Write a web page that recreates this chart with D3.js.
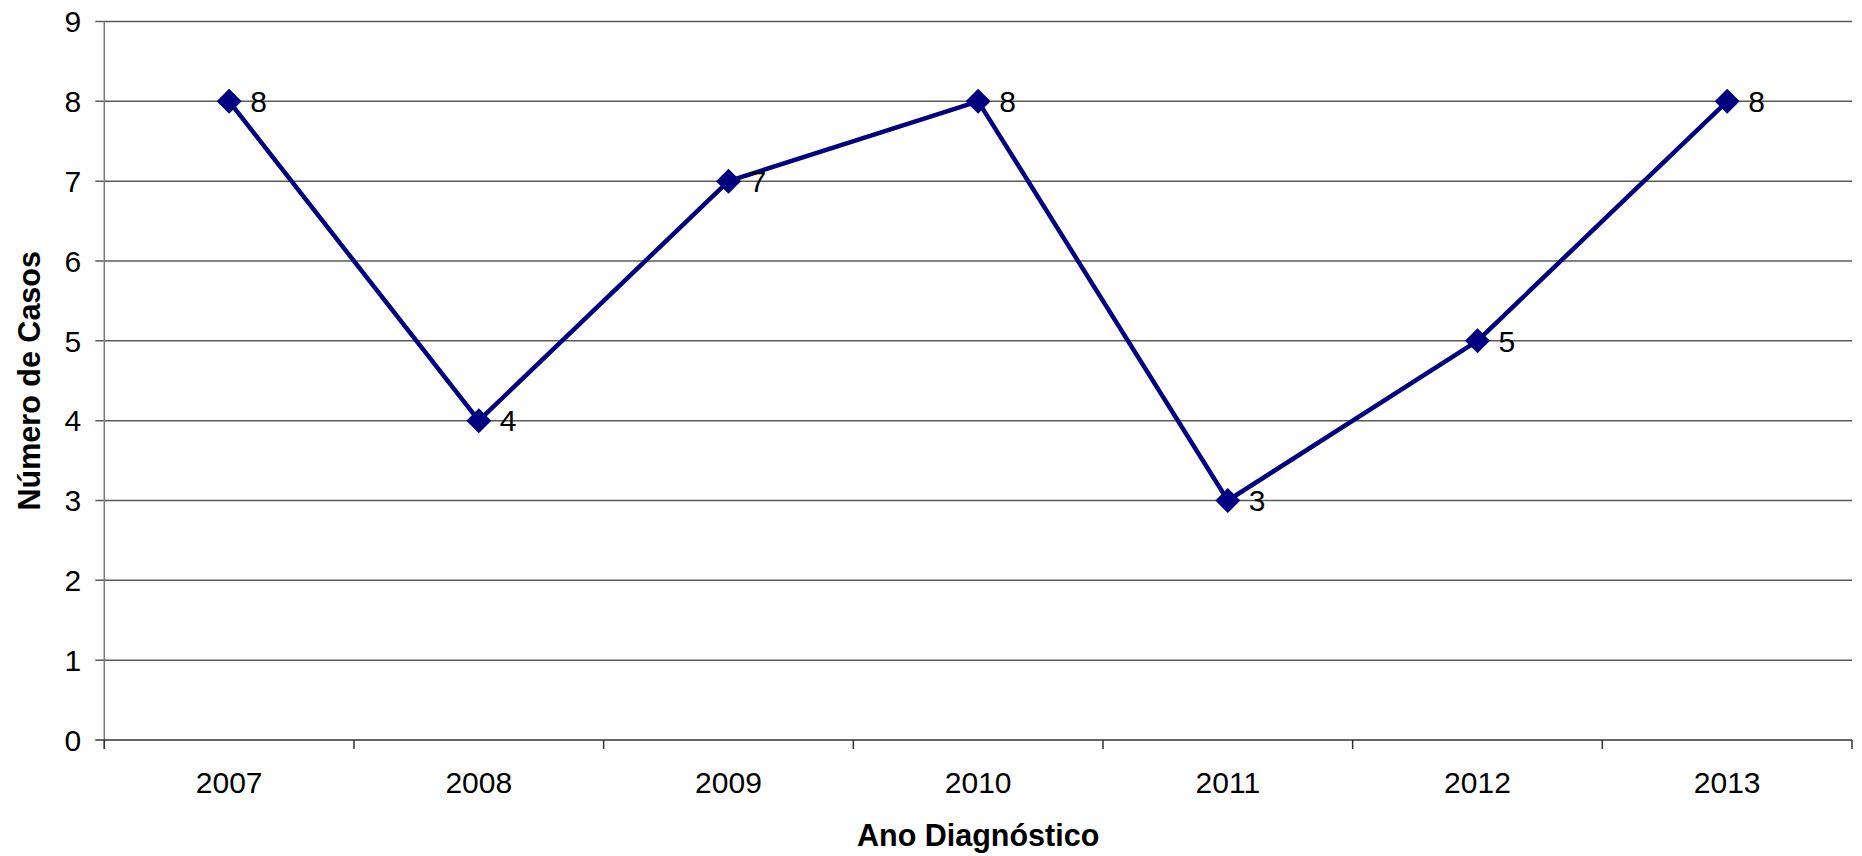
<!DOCTYPE html>
<html>
<head>
<meta charset="utf-8">
<script src="https://cdn.jsdelivr.net/npm/d3@7"></script>
<style>
  body { margin: 0; background: #fff; }
  svg { display: block; font-family: "Liberation Sans", Arial, sans-serif; }
</style>
</head>
<body>
<svg width="1862" height="856"></svg>
<script>
// data
const years = ["2007", "2008", "2009", "2010", "2011", "2012", "2013"]
const cases = [8, 4, 7, 8, 3, 5, 8]
const y_ticks = [0, 1, 2, 3, 4, 5, 6, 7, 8, 9]

const margin = {top: 21.5, right: 10, bottom: 116, left: 104.3}
const width = 1862, height = 856

let svg = d3.select("svg")

let x = d3.scaleBand()
  .domain(years)
  .range([margin.left, width - margin.right])

let y = d3.scaleLinear()
  .domain([0, 9])
  .range([height - margin.bottom, margin.top])

// gridlines (with the little tick to the left of the axis)
svg.append("g")
  .selectAll("line")
  .data(y_ticks.filter(d => d > 0))
  .enter().append("line")
  .attr("x1", margin.left - 9)
  .attr("x2", width - margin.right)
  .attr("y1", d => y(d))
  .attr("y2", d => y(d))
  .attr("stroke", "#5a5a5a")
  .attr("stroke-width", 1.5)

// y axis line
svg.append("line")
  .attr("x1", margin.left).attr("x2", margin.left)
  .attr("y1", y(9)).attr("y2", y(0) + 9)
  .attr("stroke", "#7a7a7a")
  .attr("stroke-width", 1.5)

// x axis
let xAxis = d3.axisBottom(x).tickSize(0).tickPadding(32)
let gx = svg.append("g")
  .attr("transform", `translate(0,${y(0)})`)
  .call(xAxis)
gx.select(".domain").remove()
gx.selectAll("text")
  .attr("font-size", 30)
  .attr("fill", "#000")
  .attr("font-family", "Liberation Sans, Arial, sans-serif")

svg.append("line")
  .attr("x1", margin.left - 9).attr("x2", width - margin.right)
  .attr("y1", y(0)).attr("y2", y(0))
  .attr("stroke", "#333")
  .attr("stroke-width", 1.5)

// band boundary ticks
let bounds = years.map(d => x(d)).concat([x(years[years.length - 1]) + x.bandwidth()])
svg.append("g")
  .selectAll("line")
  .data(bounds)
  .enter().append("line")
  .attr("x1", d => d).attr("x2", d => d)
  .attr("y1", y(0)).attr("y2", y(0) + 9)
  .attr("stroke", "#333")
  .attr("stroke-width", 1.5)

// y tick labels
svg.append("g")
  .selectAll("text")
  .data(y_ticks)
  .enter().append("text")
  .attr("x", margin.left - 23)
  .attr("y", d => y(d))
  .attr("dy", "0.36em")
  .attr("text-anchor", "end")
  .attr("font-size", 30)
  .text(d => d)

// axis titles
svg.append("text")
  .attr("x", (margin.left + width - margin.right) / 2)
  .attr("y", 846)
  .attr("text-anchor", "middle")
  .attr("font-size", 30.5)
  .attr("font-weight", "bold")
  .text("Ano Diagnóstico")

svg.append("text")
  .attr("transform", `translate(40,${(y(0) + y(9)) / 2}) rotate(-90)`)
  .attr("text-anchor", "middle")
  .attr("font-size", 30.5)
  .attr("font-weight", "bold")
  .text("Número de Casos")

// series
let points = years.map((d, i) => ({year: d, value: cases[i]}))
let cx = d => x(d.year) + x.bandwidth() / 2

svg.append("path")
  .datum(points)
  .attr("fill", "none")
  .attr("stroke", "#000080")
  .attr("stroke-width", 4.5)
  .attr("stroke-linejoin", "round")
  .attr("d", d3.line().x(cx).y(d => y(d.value)))

svg.append("g")
  .selectAll("path")
  .data(points)
  .enter().append("path")
  .attr("transform", d => `translate(${cx(d)},${y(d.value)})`)
  .attr("d", "M0,-12.5L12.5,0L0,12.5L-12.5,0Z")
  .attr("fill", "#000080")

svg.append("g")
  .selectAll("text")
  .data(points)
  .enter().append("text")
  .attr("x", d => cx(d) + 21)
  .attr("y", d => y(d.value))
  .attr("dy", "0.36em")
  .attr("font-size", 30)
  .text(d => d.value)
</script>
</body>
</html>
